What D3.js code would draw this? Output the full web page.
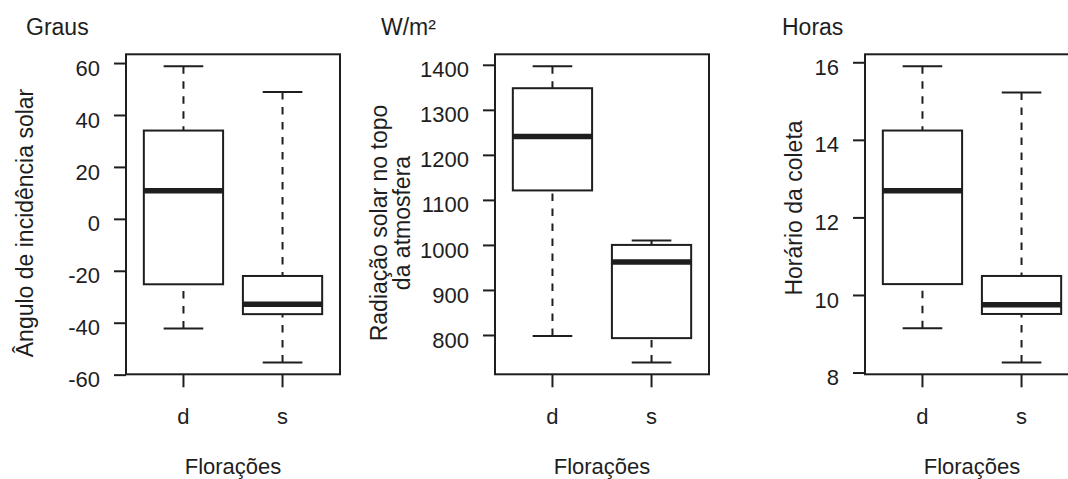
<!DOCTYPE html>
<html>
<head>
<meta charset="utf-8">
<script src="https://cdn.jsdelivr.net/npm/d3@7/dist/d3.min.js"></script>
<style>
  html, body { margin: 0; padding: 0; background: #fff; }
  svg { display: block; font-family: "Liberation Sans", Arial, Helvetica, sans-serif; }
</style>
</head>
<body>
<svg id="chart" width="1068" height="479"></svg>
<script>
// Groups shown on the x axis of every panel
const categories = ["d", "s"];

// Five-number summaries per group: [lower whisker, Q1, median, Q3, upper whisker]
const anguloD = [-42.2, -25.2, 10.8, 34.0, 58.8];
const anguloS = [-55.3, -36.7, -32.9, -22.0, 48.8];
const radiacaoD = [798, 1121, 1241, 1348, 1397];
const radiacaoS = [739, 793, 962, 1000, 1010];
const horarioD = [9.14, 10.28, 12.69, 14.24, 15.9];
const horarioS = [8.26, 9.51, 9.75, 10.49, 15.22];

// Tick values of each y axis
const anguloTicks = [-60, -40, -20, 0, 20, 40, 60];
const radiacaoTicks = [800, 900, 1000, 1100, 1200, 1300, 1400];
const horarioTicks = [8, 10, 12, 14, 16];

const xTitle = "Florações";

const panels = [
  { left: 126, unit: "Graus", unitX: 26, titleLines: ["Ângulo de incidência solar"],
    titleX: [33], titleY: 223, stats: [anguloD, anguloS], ticks: anguloTicks },
  { left: 495, unit: "W/m²", unitX: 381, titleLines: ["Radiação solar no topo", "da atmosfera"],
    titleX: [386.5, 410], titleY: 223, stats: [radiacaoD, radiacaoS], ticks: radiacaoTicks },
  { left: 865, unit: "Horas", unitX: 782, titleLines: ["Horário da coleta"],
    titleX: [802], titleY: 208, stats: [horarioD, horarioS], ticks: horarioTicks }
];

const plotW = 214, plotTop = 54.3, plotBottom = 374.3;
const ink = "#1e1e1e";
const svg = d3.select("#chart");

panels.forEach(p => {
  const g = svg.append("g");

  // y domain: whisker extent widened by 4% on each side
  const lo = d3.min(p.stats, s => s[0]);
  const hi = d3.max(p.stats, s => s[4]);
  const pad = (hi - lo) * 0.04;
  const y = d3.scaleLinear().domain([lo - pad, hi + pad]).range([plotBottom, plotTop]);

  const x = d3.scaleBand().domain(categories)
    .range([p.left, p.left + plotW])
    .paddingInner(0.2).paddingOuter(0.18);
  const bw = x.bandwidth();

  // y axis (plain hyphen for negative numbers)
  const ya = g.append("g").attr("transform", `translate(${p.left},0)`)
    .call(d3.axisLeft(y).tickValues(p.ticks).tickFormat(d => String(d))
      .tickSize(12).tickPadding(14));
  ya.select(".domain").remove();
  ya.selectAll(".tick line").attr("stroke", ink).attr("stroke-width", 2);
  ya.selectAll(".tick text").attr("fill", ink).attr("font-size", 22)
    .attr("font-family", null).attr("dy", "0.55em");

  // x axis
  const xa = g.append("g").attr("transform", `translate(0,${plotBottom})`)
    .call(d3.axisBottom(x).tickSize(13).tickPadding(21));
  xa.select(".domain").remove();
  xa.selectAll(".tick line").attr("stroke", ink).attr("stroke-width", 2);
  xa.selectAll(".tick text").attr("fill", ink).attr("font-size", 22)
    .attr("font-family", null);

  // boxes
  categories.forEach((c, i) => {
    const s = p.stats[i];
    const cx = x(c) + bw / 2;
    const bg = g.append("g");
    // whiskers, drawn from the whisker end toward the box
    [[s[0], s[1]], [s[4], s[3]]].forEach(([a, b]) => {
      bg.append("line").attr("x1", cx).attr("x2", cx)
        .attr("y1", y(a)).attr("y2", y(b))
        .attr("stroke", ink).attr("stroke-width", 2)
        .attr("stroke-dasharray", "7.5,7.5");
      bg.append("line").attr("x1", cx - bw / 4).attr("x2", cx + bw / 4)
        .attr("y1", y(a)).attr("y2", y(a))
        .attr("stroke", ink).attr("stroke-width", 2);
    });
    bg.append("rect").attr("x", x(c)).attr("width", bw)
      .attr("y", y(s[3])).attr("height", y(s[1]) - y(s[3]))
      .attr("fill", "#fff").attr("stroke", ink).attr("stroke-width", 2);
    bg.append("line").attr("x1", x(c)).attr("x2", x(c) + bw)
      .attr("y1", y(s[2])).attr("y2", y(s[2]))
      .attr("stroke", ink).attr("stroke-width", 5.5);
  });

  // plot frame
  g.append("rect").attr("x", p.left).attr("y", plotTop)
    .attr("width", plotW).attr("height", plotBottom - plotTop)
    .attr("fill", "none").attr("stroke", ink).attr("stroke-width", 2);

  // unit label above the panel
  g.append("text").attr("x", p.unitX).attr("y", 34.5)
    .attr("font-size", 23).attr("fill", ink).text(p.unit);

  // y axis title
  p.titleLines.forEach((t, k) => {
    g.append("text")
      .attr("transform", `translate(${p.titleX[k]},${p.titleY}) rotate(-90)`)
      .attr("text-anchor", "middle").attr("font-size", 23).attr("fill", ink)
      .text(t);
  });

  // x axis title
  g.append("text").attr("x", p.left + plotW / 2).attr("y", 474.3)
    .attr("text-anchor", "middle").attr("font-size", 22).attr("fill", ink)
    .text(xTitle);
});
</script>
</body>
</html>
